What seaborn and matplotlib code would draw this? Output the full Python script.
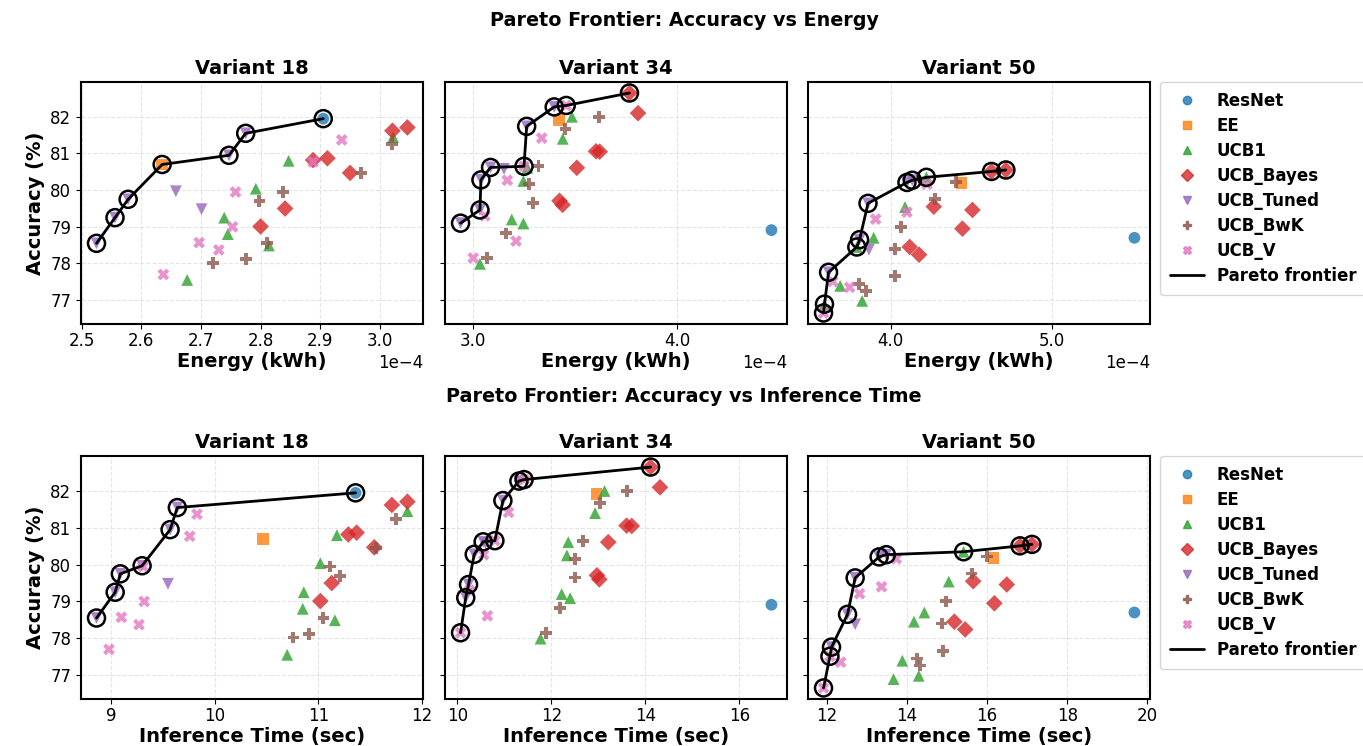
import pandas as pd
import seaborn as sns
import matplotlib.pyplot as plt
from matplotlib.lines import Line2D
from matplotlib.ticker import MultipleLocator, ScalarFormatter

METHODS = ["ResNet", "EE", "UCB1", "UCB_Bayes", "UCB_Tuned", "UCB_BwK", "UCB_V"]
MARKERS = ["o", "s", "^", "D", "v", "P", "X"]
VARIANTS = [18, 34, 50]
ENERGY_UNIT = 1e-4  # energy values below are in units of 1e-4 kWh

# ---- Variant 18 ----
V18_ENERGY = {
    "ResNet": [2.905],
    "EE": [2.635],
    "UCB1": [2.677, 2.739, 2.745, 2.792, 2.814, 2.847, 3.022],
    "UCB_Bayes": [2.800, 2.841, 2.888, 2.912, 2.950, 3.021, 3.046],
    "UCB_Tuned": [2.525, 2.556, 2.578, 2.658, 2.701, 2.747, 2.775],
    "UCB_BwK": [2.720, 2.775, 2.811, 2.798, 2.837, 2.969, 3.020],
    "UCB_V": [2.637, 2.697, 2.730, 2.753, 2.758, 2.888, 2.936],
}
V18_TIME = {
    "ResNet": [11.36],
    "EE": [10.47],
    "UCB1": [10.70, 10.86, 10.85, 11.02, 11.16, 11.18, 11.86],
    "UCB_Bayes": [11.02, 11.13, 11.29, 11.37, 11.54, 11.71, 11.86],
    "UCB_Tuned": [8.86, 9.04, 9.09, 9.30, 9.55, 9.57, 9.64],
    "UCB_BwK": [10.76, 10.91, 11.05, 11.21, 11.11, 11.56, 11.75],
    "UCB_V": [8.98, 9.10, 9.27, 9.32, 9.31, 9.76, 9.83],
}
V18_ACC = {
    "ResNet": [81.95],
    "EE": [80.70],
    "UCB1": [77.55, 79.25, 78.80, 80.04, 78.49, 80.80, 81.45],
    "UCB_Bayes": [79.01, 79.50, 80.82, 80.87, 80.47, 81.62, 81.71],
    "UCB_Tuned": [78.55, 79.25, 79.75, 79.97, 79.48, 80.95, 81.55],
    "UCB_BwK": [78.02, 78.12, 78.56, 79.70, 79.95, 80.46, 81.25],
    "UCB_V": [77.70, 78.57, 78.37, 79.00, 79.95, 80.77, 81.37],
}

# ---- Variant 34 ----
V34_ENERGY = {
    "ResNet": [4.462],
    "EE": [3.421],
    "UCB1": [3.484, 3.439, 3.265, 3.246, 3.189, 3.246, 3.033],
    "UCB_Bayes": [3.766, 3.808, 3.602, 3.620, 3.508, 3.423, 3.438],
    "UCB_Tuned": [2.938, 3.033, 3.038, 3.085, 3.151, 3.262, 3.397],
    "UCB_BwK": [3.618, 3.452, 3.320, 3.274, 3.292, 3.161, 3.069],
    "UCB_V": [3.000, 3.210, 3.057, 3.167, 3.249, 3.336, 3.456],
}
V34_TIME = {
    "ResNet": [16.68],
    "EE": [12.96],
    "UCB1": [13.13, 12.93, 12.36, 12.33, 12.22, 12.40, 11.77],
    "UCB_Bayes": [14.11, 14.31, 13.60, 13.71, 13.21, 12.97, 13.02],
    "UCB_Tuned": [10.18, 10.24, 10.36, 10.55, 10.60, 10.97, 11.31],
    "UCB_BwK": [13.61, 13.03, 12.68, 12.51, 12.51, 12.18, 11.89],
    "UCB_V": [10.07, 10.64, 10.26, 10.56, 10.80, 11.09, 11.42],
}
V34_ACC = {
    "ResNet": [78.91],
    "EE": [81.91],
    "UCB1": [82.00, 81.40, 80.61, 80.25, 79.20, 79.09, 77.99],
    "UCB_Bayes": [82.65, 82.10, 81.06, 81.05, 80.61, 79.71, 79.60],
    "UCB_Tuned": [79.10, 79.46, 80.28, 80.62, 80.58, 81.74, 82.27],
    "UCB_BwK": [82.00, 81.67, 80.65, 80.16, 79.65, 78.82, 78.15],
    "UCB_V": [78.15, 78.61, 79.30, 80.27, 80.65, 81.42, 82.31],
}

# ---- Variant 50 ----
V50_ENERGY = {
    "ResNet": [5.508],
    "EE": [4.438],
    "UCB1": [3.591, 3.688, 3.791, 3.895, 3.824, 4.089, 4.221],
    "UCB_Bayes": [4.267, 4.506, 4.444, 4.118, 4.176, 4.624, 4.713],
    "UCB_Tuned": [3.616, 3.808, 3.860, 4.101, 4.134, 3.866],
    "UCB_BwK": [4.403, 4.273, 4.062, 4.025, 4.025, 3.804, 3.849],
    "UCB_V": [3.585, 3.642, 3.746, 3.907, 4.101, 4.225],
}
V50_TIME = {
    "ResNet": [19.68],
    "EE": [16.16],
    "UCB1": [13.66, 13.88, 14.17, 14.43, 14.29, 15.04, 15.41],
    "UCB_Bayes": [15.65, 16.49, 16.18, 15.18, 15.45, 16.82, 17.12],
    "UCB_Tuned": [12.11, 12.51, 12.70, 13.30, 13.48, 12.70],
    "UCB_BwK": [15.99, 15.61, 14.97, 14.86, 14.90, 14.24, 14.32],
    "UCB_V": [11.91, 12.07, 12.34, 12.81, 13.36, 13.73],
}
V50_ACC = {
    "ResNet": [78.70],
    "EE": [80.19],
    "UCB1": [76.89, 77.39, 78.45, 78.70, 76.98, 79.54, 80.35],
    "UCB_Bayes": [79.55, 79.46, 78.95, 78.45, 78.24, 80.51, 80.55],
    "UCB_Tuned": [77.76, 78.65, 79.64, 80.21, 80.27, 78.38],
    "UCB_BwK": [80.22, 79.76, 79.00, 78.40, 77.66, 77.45, 77.26],
    "UCB_V": [76.65, 77.51, 77.35, 79.21, 79.40, 80.16],
}

ENERGY_TICK_STEP = [0.1e-4, 1e-4, 1e-4]


class OneDecimalSci(ScalarFormatter):
    def _set_format(self):
        self.format = "%1.1f"


def build_frame():
    rows = []
    tables = {18: (V18_ENERGY, V18_TIME, V18_ACC),
              34: (V34_ENERGY, V34_TIME, V34_ACC),
              50: (V50_ENERGY, V50_TIME, V50_ACC)}
    for v, (en, tm, ac) in tables.items():
        for m in METHODS:
            for e, t, a in zip(en[m], tm[m], ac[m]):
                rows.append({"variant": v, "method": m, "energy": e * ENERGY_UNIT,
                             "time": t, "acc": a})
    return pd.DataFrame(rows)


def pareto(sub, cost):
    s = sub.sort_values([cost, "acc"], ascending=[True, False])
    best = -1.0
    xs, ys = [], []
    for c, a in zip(s[cost], s["acc"]):
        if a > best:
            xs.append(c)
            ys.append(a)
            best = a
    return xs, ys


def main():
    sns.set_style("ticks")
    plt.rcParams.update({
        "font.family": ["DejaVu Sans"],
        "text.color": "black",
        "axes.labelcolor": "black",
        "axes.edgecolor": "black",
        "axes.linewidth": 1.5,
        "xtick.color": "black",
        "ytick.color": "black",
        "xtick.labelsize": 12,
        "ytick.labelsize": 12,
        "xtick.major.size": 3.5,
        "ytick.major.size": 3.5,
        "xtick.major.width": 0.8,
        "ytick.major.width": 0.8,
        "xtick.major.pad": 2.0,
    })
    df = build_frame()
    palette = dict(zip(METHODS, sns.color_palette("tab10", 7)))
    markers = dict(zip(METHODS, MARKERS))

    fig = plt.figure(figsize=(13.63, 7.46), dpi=100)
    lefts = [0.0594, 0.3265, 0.5928]
    w = 0.2509
    rows = [(0.5657, 0.3244, "energy", "Energy (kWh)"),
            (0.0630, 0.3257, "time", "Inference Time (sec)")]

    for r, (bottom, h, cost, xlabel) in enumerate(rows):
        first = None
        for c, v in enumerate(VARIANTS):
            ax = fig.add_axes([lefts[c], bottom, w, h], sharey=first)
            if first is None:
                first = ax
            sub = df[df["variant"] == v]
            sns.scatterplot(data=sub, x=cost, y="acc", hue="method", style="method",
                            hue_order=METHODS, style_order=METHODS, palette=palette,
                            markers=markers, s=72, alpha=0.8, linewidth=0,
                            legend=False, ax=ax, zorder=2)
            fx, fy = pareto(sub, cost)
            ax.plot(fx, fy, color="black", lw=2, zorder=3)
            ax.scatter(fx, fy, s=150, facecolors="none", edgecolors="black",
                       linewidths=1.8, zorder=4)
            ax.grid(True, linestyle="--", alpha=0.5)
            ax.set_title(f"Variant {v}", fontsize=14, fontweight="bold")
            ax.set_xlabel(xlabel, fontsize=14, fontweight="bold", labelpad=2)
            if c == 0:
                ax.set_ylabel("Accuracy (%)", fontsize=14, fontweight="bold")
            else:
                ax.set_ylabel("")
                ax.tick_params(labelleft=False)
            if cost == "energy":
                fmt = OneDecimalSci()
                fmt.set_powerlimits((0, 0))
                ax.xaxis.set_major_locator(MultipleLocator(ENERGY_TICK_STEP[c]))
                ax.xaxis.set_major_formatter(fmt)
                ax.xaxis.get_offset_text().set_fontsize(12)
            ax.set_yticks([77, 78, 79, 80, 81, 82])
            if c == 2:
                handles = [Line2D([], [], marker=markers[m], color=palette[m], linestyle="",
                                  markersize=6, alpha=0.8, label=m) for m in METHODS]
                handles.append(Line2D([], [], color="black", lw=2, label="Pareto frontier"))
                ax.legend(handles=handles, loc="upper left", bbox_to_anchor=(1.03, 1.0),
                          borderaxespad=0, borderpad=0.6, labelspacing=0.42,
                          prop={"weight": "bold", "size": 12})

    fig.text(0.502, 0.973, "Pareto Frontier: Accuracy vs Energy", ha="center", va="center",
             fontsize=13.8, fontweight="bold")
    fig.text(0.502, 0.469, "Pareto Frontier: Accuracy vs Inference Time", ha="center",
             va="center", fontsize=13.8, fontweight="bold")

    fig.savefig("out.png", dpi=100)
    plt.close(fig)


if __name__ == "__main__":
    main()
